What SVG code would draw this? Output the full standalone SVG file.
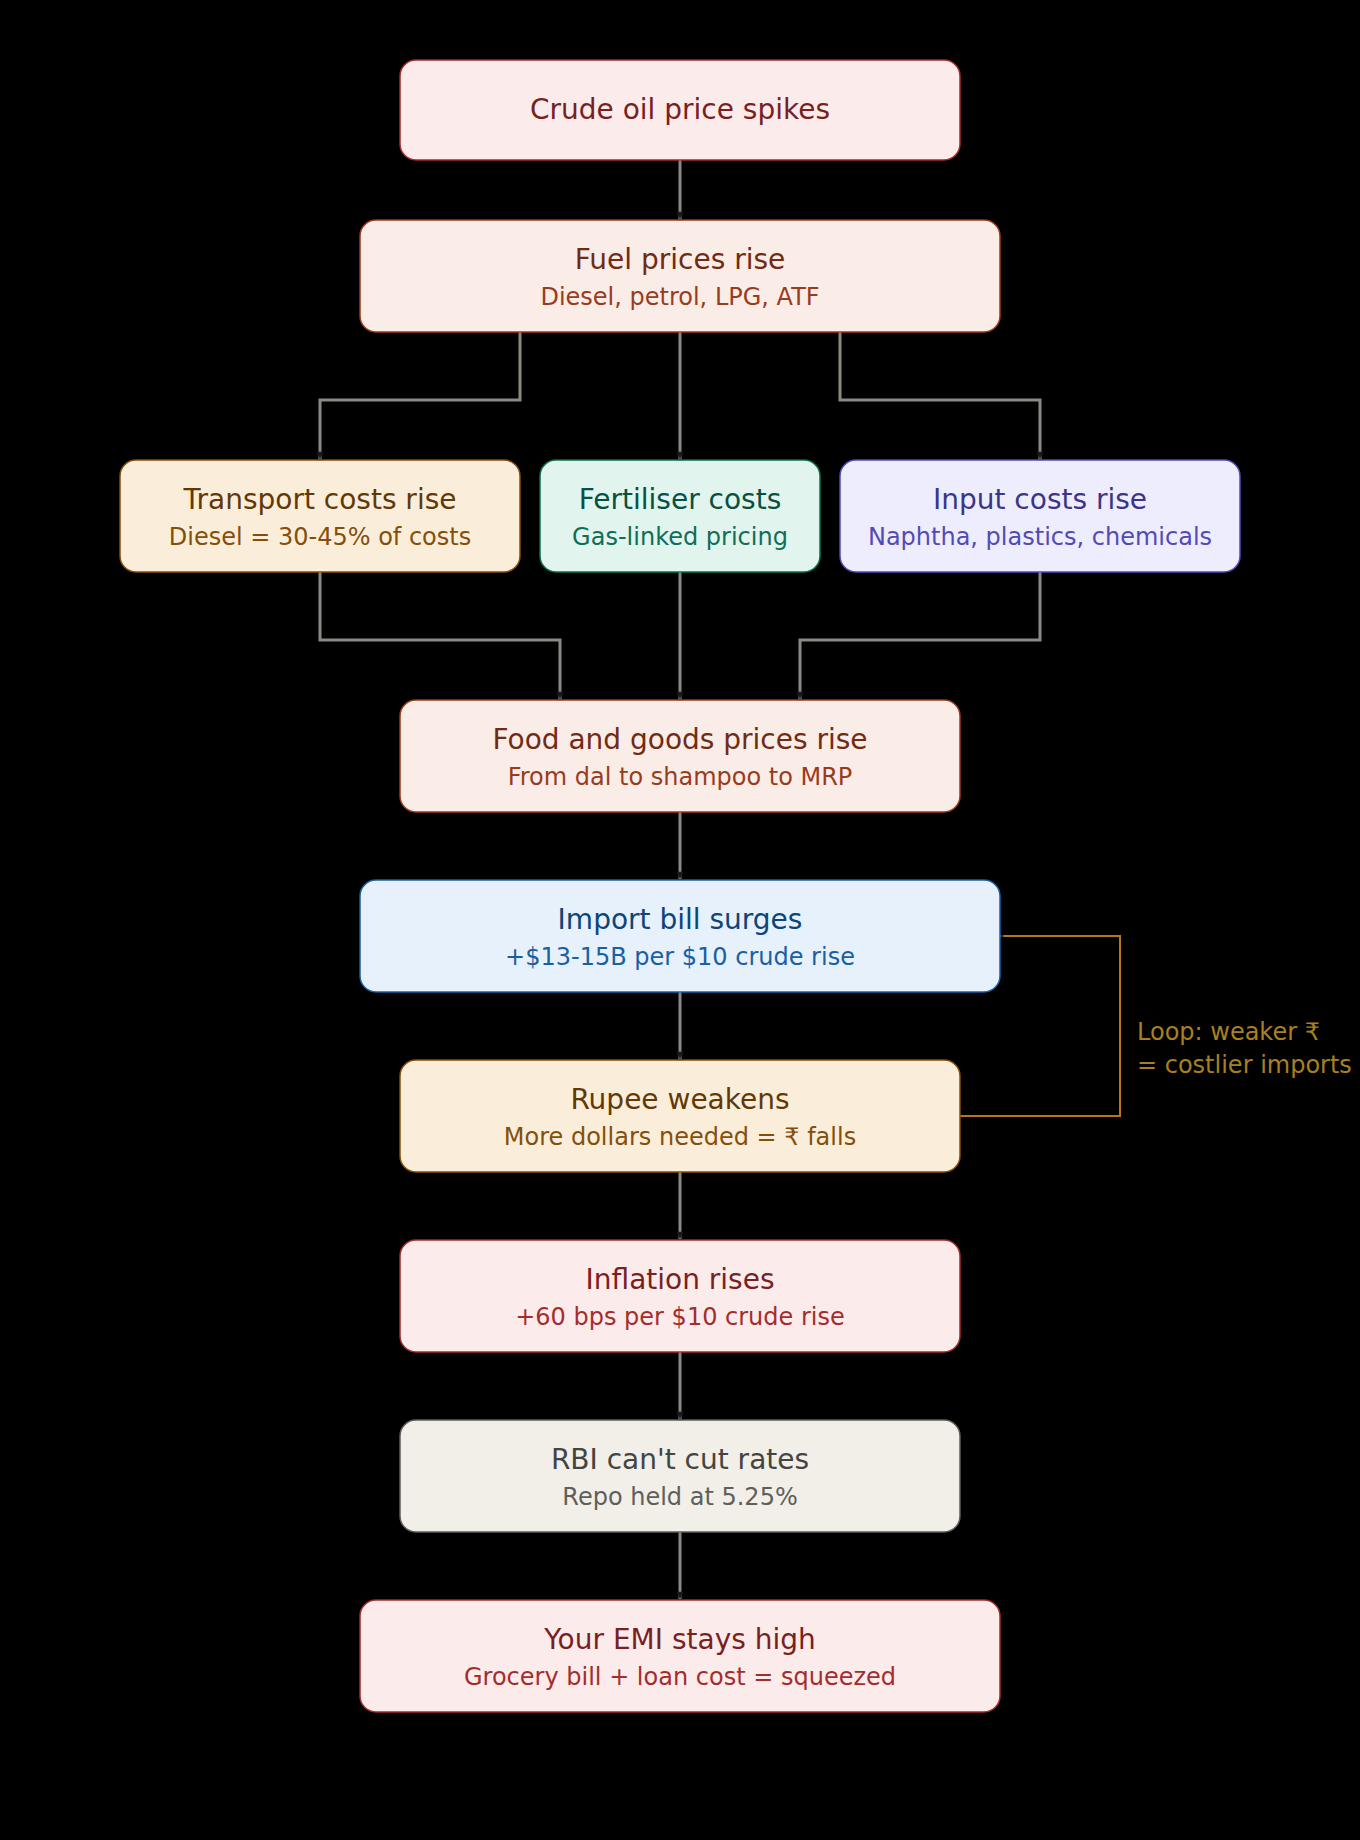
<svg xmlns="http://www.w3.org/2000/svg" width="1360" height="1840" viewBox="0 0 1360 1840">
<style>
text{font-family:"DejaVu Sans","Noto Sans",sans-serif;text-anchor:middle}
.t{font-size:28px}
.s{font-size:24px}
rect{stroke-width:1.5}
.c{fill:none;stroke:#8a8984;stroke-width:3;marker-end:url(#arr)}
.red rect{fill:#FCEBEB;stroke:#A32D2D}.red .t{fill:#791F1F}.red .s{fill:#A32D2D}
.coral rect{fill:#FAECE7;stroke:#993C1D}.coral .t{fill:#712B13}.coral .s{fill:#993C1D}
.amber rect{fill:#FAEEDA;stroke:#854F0B}.amber .t{fill:#633806}.amber .s{fill:#854F0B}
.teal rect{fill:#E1F5EE;stroke:#0F6E56}.teal .t{fill:#085041}.teal .s{fill:#0F6E56}
.purple rect{fill:#EEEDFE;stroke:#534AB7}.purple .t{fill:#3C3489}.purple .s{fill:#534AB7}
.blue rect{fill:#E6F1FB;stroke:#185FA5}.blue .t{fill:#0C447C}.blue .s{fill:#185FA5}
.gray rect{fill:#F1EFE8;stroke:#5F5E5A}.gray .t{fill:#444441}.gray .s{fill:#5F5E5A}
.loop{font-size:24px;fill:#A8801F;text-anchor:start}
</style>
<defs>
<marker id="arr" viewBox="0 0 10 10" refX="9" refY="5" markerWidth="3" markerHeight="3" orient="auto">
<path d="M1 1 L9 5 L1 9 Z" fill="#1a1a1a"/>
</marker>
<marker id="arrs" viewBox="0 0 10 10" refX="9" refY="5" markerWidth="2" markerHeight="2" orient="auto">
<path d="M1 1 L9 5 L1 9 Z" fill="#1a1a1a"/>
</marker>
</defs>
<rect width="1360" height="1840" fill="#000"/>
<g id="connectors">
<path class="c" d="M680 160 V219"/>
<path class="c" d="M520 332 V400 H320 V459"/>
<path class="c" d="M680 332 V459"/>
<path class="c" d="M840 332 V400 H1040 V459"/>
<path class="c" d="M320 572 V640 H560 V699"/>
<path class="c" d="M680 572 V699"/>
<path class="c" d="M1040 572 V640 H800 V699"/>
<path class="c" d="M680 812 V879"/>
<path class="c" d="M680 992 V1059"/>
<path class="c" d="M680 1172 V1239"/>
<path class="c" d="M680 1352 V1419"/>
<path class="c" d="M680 1532 V1599"/>
<path d="M960 1116 H1120 V936 H1000" fill="none" stroke="#BA7517" stroke-width="2" marker-end="url(#arrs)"/>
<text class="loop" x="1137" y="1040">Loop: weaker ₹</text>
<text class="loop" x="1137" y="1073">= costlier imports</text>
</g>
<g id="crude" class="red"><rect x="400" y="60" width="560" height="100" rx="16"/><text class="t" x="680" y="119">Crude oil price spikes</text></g>
<g id="fuel" class="coral"><rect x="360" y="220" width="640" height="112" rx="16"/><text class="t" x="680" y="269">Fuel prices rise</text><text class="s" x="680" y="305">Diesel, petrol, LPG, ATF</text></g>
<g id="transport" class="amber"><rect x="120" y="460" width="400" height="112" rx="16"/><text class="t" x="320" y="509">Transport costs rise</text><text class="s" x="320" y="545">Diesel = 30-45% of costs</text></g>
<g id="fertiliser" class="teal"><rect x="540" y="460" width="280" height="112" rx="16"/><text class="t" x="680" y="509">Fertiliser costs</text><text class="s" x="680" y="545">Gas-linked pricing</text></g>
<g id="input" class="purple"><rect x="840" y="460" width="400" height="112" rx="16"/><text class="t" x="1040" y="509">Input costs rise</text><text class="s" x="1040" y="545">Naphtha, plastics, chemicals</text></g>
<g id="food" class="coral"><rect x="400" y="700" width="560" height="112" rx="16"/><text class="t" x="680" y="749">Food and goods prices rise</text><text class="s" x="680" y="785">From dal to shampoo to MRP</text></g>
<g id="import" class="blue"><rect x="360" y="880" width="640" height="112" rx="16"/><text class="t" x="680" y="929">Import bill surges</text><text class="s" x="680" y="965">+$13-15B per $10 crude rise</text></g>
<g id="rupee" class="amber"><rect x="400" y="1060" width="560" height="112" rx="16"/><text class="t" x="680" y="1109">Rupee weakens</text><text class="s" x="680" y="1145">More dollars needed = ₹ falls</text></g>
<g id="inflation" class="red"><rect x="400" y="1240" width="560" height="112" rx="16"/><text class="t" x="680" y="1289">Inflation rises</text><text class="s" x="680" y="1325">+60 bps per $10 crude rise</text></g>
<g id="rbi" class="gray"><rect x="400" y="1420" width="560" height="112" rx="16"/><text class="t" x="680" y="1469">RBI can't cut rates</text><text class="s" x="680" y="1505">Repo held at 5.25%</text></g>
<g id="emi" class="red"><rect x="360" y="1600" width="640" height="112" rx="16"/><text class="t" x="680" y="1649">Your EMI stays high</text><text class="s" x="680" y="1685">Grocery bill + loan cost = squeezed</text></g>
</svg>
